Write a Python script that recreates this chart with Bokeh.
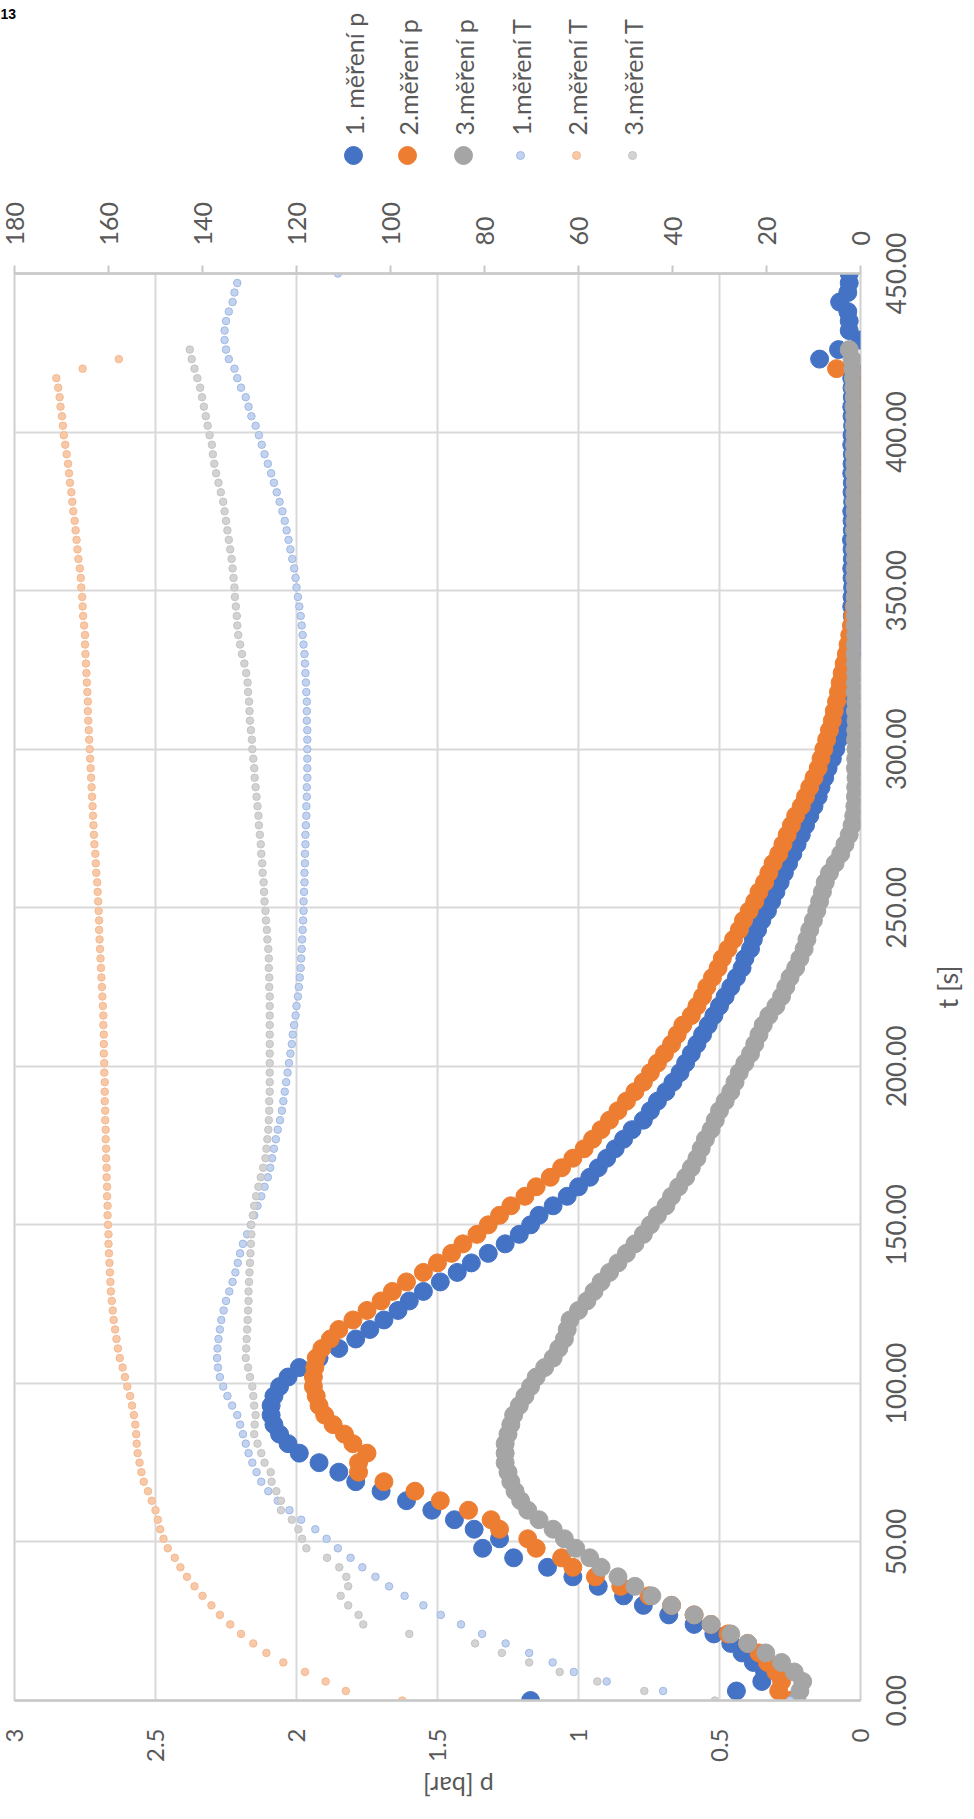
import math
from bokeh.plotting import figure
from bokeh.models import (Range1d, LinearAxis, FixedTicker, NumeralTickFormatter,
                          ColumnDataSource)
from bokeh.layouts import column, row
from bokeh.embed import file_html
from bokeh.resources import INLINE
from bokeh.core.properties import value

# ---------------- data (sampling every 3 s) ----------------
STEP = 3  # s, sampling interval of the measurements

p1 = [1.17, 0.44, 0.35, 0.34, 0.38, 0.42, 0.46, 0.52, 0.59, 0.68,
      0.77, 0.84, 0.93, 1.02, 1.11, 1.23, 1.34, 1.28, 1.37, 1.44,
      1.52, 1.61, 1.70, 1.79, 1.85, 1.92, 1.99, 2.03, 2.06, 2.08,
      2.09, 2.09, 2.08, 2.06, 2.03, 1.99, 1.92, 1.85, 1.79, 1.74,
      1.69, 1.64, 1.60, 1.55, 1.49, 1.43, 1.38, 1.32, 1.26, 1.21,
      1.17, 1.14, 1.09, 1.04, 1.00, 0.96, 0.93, 0.90, 0.87, 0.84,
      0.81, 0.77, 0.745, 0.72, 0.69, 0.665, 0.64, 0.62, 0.60, 0.58,
      0.56, 0.54, 0.52, 0.50, 0.48, 0.46, 0.44, 0.42, 0.41, 0.39,
      0.38, 0.365, 0.35, 0.33, 0.315, 0.30, 0.285, 0.27, 0.255, 0.24,
      0.225, 0.21, 0.195, 0.18, 0.165, 0.15, 0.14, 0.127, 0.115, 0.10,
      0.088, 0.078, 0.068, 0.06, 0.054, 0.048, 0.044, 0.04, 0.037, 0.034,
      0.031, 0.029, 0.028, 0.03, 0.029, 0.031, 0.03, 0.028, 0.03, 0.031,
      0.029, 0.03, 0.032, 0.029, 0.03, 0.031, 0.028, 0.03, 0.029, 0.031,
      0.03, 0.029, 0.031, 0.03, 0.028, 0.03, 0.031, 0.029, 0.03, 0.031,
      0.03, 0.145, 0.078, 0.0, 0.04, 0.04, 0.045, 0.074, 0.045, 0.04,
      0.04]

p2 = [0.25, 0.29, 0.28, 0.30, 0.33, 0.36, 0.40, 0.47, 0.53, 0.59,
      0.67, 0.75, 0.85, 0.94, 1.02, 1.06, 1.15, 1.18, 1.28, 1.31,
      1.39, 1.49, 1.58, 1.69, 1.78, 1.78, 1.75, 1.80, 1.83, 1.87,
      1.90, 1.92, 1.93, 1.94, 1.94, 1.935, 1.93, 1.91, 1.88, 1.85,
      1.80, 1.75, 1.70, 1.66, 1.61, 1.55, 1.50, 1.45, 1.41, 1.36,
      1.32, 1.28, 1.24, 1.19, 1.15, 1.10, 1.06, 1.02, 0.98, 0.95,
      0.92, 0.89, 0.86, 0.83, 0.80, 0.77, 0.745, 0.72, 0.695, 0.67,
      0.65, 0.63, 0.60, 0.58, 0.56, 0.545, 0.525, 0.505, 0.49, 0.47,
      0.45, 0.43, 0.415, 0.395, 0.375, 0.36, 0.34, 0.325, 0.31, 0.29,
      0.275, 0.26, 0.245, 0.23, 0.21, 0.195, 0.18, 0.165, 0.15, 0.14,
      0.13, 0.12, 0.11, 0.10, 0.093, 0.085, 0.078, 0.072, 0.065, 0.058,
      0.05, 0.044, 0.038, 0.032, 0.027, 0.022, 0.018, 0.014, 0.01, 0.008,
      0.006, 0.005, 0.007, 0.004, 0.006, 0.005, 0.003, 0.006, 0.005, 0.004,
      0.006, 0.005, 0.004, 0.006, 0.005, 0.003, 0.005, 0.006, 0.004, 0.005,
      0.085]

p3 = [0.225, 0.215, 0.205, 0.235, 0.28, 0.336, 0.40, 0.46, 0.53, 0.59,
      0.67, 0.74, 0.80, 0.86, 0.92, 0.96, 1.01, 1.05, 1.09, 1.14,
      1.18, 1.205, 1.225, 1.24, 1.25, 1.26, 1.26, 1.26, 1.25, 1.24,
      1.23, 1.21, 1.19, 1.17, 1.15, 1.12, 1.09, 1.07, 1.05, 1.04,
      1.03, 1.00, 0.97, 0.945, 0.92, 0.89, 0.86, 0.83, 0.80, 0.77,
      0.745, 0.72, 0.69, 0.67, 0.645, 0.62, 0.60, 0.58, 0.565, 0.55,
      0.53, 0.515, 0.50, 0.48, 0.46, 0.445, 0.43, 0.41, 0.39, 0.375,
      0.36, 0.345, 0.325, 0.30, 0.28, 0.265, 0.25, 0.23, 0.215, 0.20,
      0.19, 0.18, 0.167, 0.155, 0.145, 0.135, 0.125, 0.11, 0.09, 0.07,
      0.055, 0.04, 0.03, 0.024, 0.02, 0.018, 0.017, 0.016, 0.018, 0.017,
      0.016, 0.018, 0.017, 0.016, 0.018, 0.017, 0.019, 0.018, 0.017, 0.018,
      0.019, 0.018, 0.017, 0.019, 0.018, 0.02, 0.019, 0.018, 0.02, 0.019,
      0.018, 0.02, 0.019, 0.021, 0.02, 0.019, 0.021, 0.02, 0.019, 0.021,
      0.02, 0.022, 0.021, 0.02, 0.022, 0.021, 0.023, 0.022, 0.024, 0.025,
      0.027, 0.03, 0.04]

T1 = [15, 42, 54, 61, 65.5, 70.5, 75.5, 80.5, 85, 89.3,
      93, 97, 100.3, 103.2, 106, 108.5, 111.2, 113.6, 116, 119,
      121.5, 124, 126, 127.5, 128.5, 129.4, 130.2, 130.8, 131.4, 132,
      132.6, 133.7, 134.7, 135.6, 136.3, 136.7, 136.9, 136.8, 136.6, 136.3,
      136, 135.5, 135, 134.3, 133.6, 133, 132.5, 132, 131.4, 130.5,
      129.7, 129, 128.3, 127.5, 126.8, 126.1, 125.6, 125.2, 124.8, 124.4,
      124, 123.5, 123.1, 122.8, 122.5, 122.2, 121.9, 121.6, 121.3, 121,
      120.8, 120.5, 120.2, 120, 119.7, 119.5, 119.3, 119.1, 119, 118.9,
      118.8, 118.7, 118.6, 118.5, 118.5, 118.4, 118.3, 118.3, 118.2, 118.2,
      118.1, 118.1, 118, 117.9, 117.9, 117.8, 117.8, 117.7, 117.7, 117.7,
      117.7, 117.7, 117.7, 117.8, 117.8, 117.8, 117.9, 118, 118.1, 118.2,
      118.3, 118.5, 118.7, 118.9, 119.1, 119.4, 119.7, 120, 120.2, 120.5,
      120.9, 121.3, 121.7, 122.1, 122.5, 123, 123.6, 124.2, 124.8, 125.4,
      126.1, 126.8, 127.4, 128, 128.7, 129.6, 130.2, 130.8, 131.8, 132.6,
      133.2, 134.4, 135, 135.3, 135.3, 135, 134.4, 133.6, 133.2, 132.6,
      111.2]

T2 = [97.5, 109.5, 113.8, 118.2, 122.8, 126.4, 129.2, 131.8, 134.1, 136.3,
      138.1, 140, 141.7, 143.3, 144.7, 145.9, 147.4, 148.3, 149, 149.5,
      150, 150.8, 151.6, 152.5, 153, 153.4, 153.8, 154, 154.1, 154.3,
      154.6, 155, 155.4, 156, 156.5, 157, 157.6, 158, 158.3, 158.6,
      158.9, 159.1, 159.3, 159.5, 159.6, 159.7, 159.8, 159.9, 160, 160,
      160.1, 160.2, 160.2, 160.3, 160.3, 160.4, 160.4, 160.5, 160.5, 160.6,
      160.6, 160.7, 160.7, 160.8, 160.8, 160.8, 160.9, 160.9, 161, 161,
      161, 161.1, 161.1, 161.2, 161.3, 161.4, 161.5, 161.6, 161.7, 161.8,
      161.9, 162, 162, 162.1, 162.2, 162.3, 162.4, 162.6, 162.7, 162.8,
      163, 163.1, 163.2, 163.3, 163.4, 163.5, 163.6, 163.7, 163.8, 163.9,
      164, 164.1, 164.2, 164.3, 164.4, 164.4, 164.5, 164.6, 164.7, 164.8,
      164.9, 165, 165, 165.2, 165.4, 165.5, 165.6, 165.8, 165.9, 166.1,
      166.4, 166.6, 166.8, 167, 167.2, 167.5, 167.7, 167.9, 168.2, 168.4,
      168.6, 168.9, 169.2, 169.5, 169.7, 169.9, 170.2, 170.4, 170.7, 171.1,
      165.5, 157.8]

T3 = [31, 46, 56, 64, 70.5, 76.3, 82, 96, 105.8, 106.8,
      109, 110.6, 109, 109.4, 110.9, 113.5, 117.9, 118.8, 119.6, 121,
      123.3, 123.3, 124.3, 125.3, 125.5, 126.8, 127.5, 128.3, 129, 128.9,
      128.7, 129, 129.2, 129.4, 129.9, 130.3, 130.8, 130.7, 130.6, 130.5,
      130.4, 130.3, 130.2, 130.2, 130.1, 130, 129.9, 129.8, 129.7, 129.6,
      129.6, 129.3, 129, 128.6, 128.1, 127.6, 127.1, 126.6, 126.4, 126.2,
      126, 125.9, 125.8, 125.8, 125.7, 125.7, 125.7, 125.7, 125.7, 125.7,
      125.7, 125.7, 125.7, 125.7, 125.7, 125.8, 125.8, 125.9, 125.9, 126,
      126.2, 126.3, 126.5, 126.6, 126.8, 126.9, 127, 127.2, 127.3, 127.5,
      127.6, 127.8, 128, 128.1, 128.3, 128.5, 128.7, 128.9, 129, 129.2,
      129.4, 129.5, 129.7, 129.9, 130, 130.1, 130.3, 130.4, 130.7, 131.1,
      131.6, 132, 132.4, 132.6, 132.7, 132.9, 133.1, 133.2, 133.4, 133.6,
      133.8, 134.1, 134.4, 134.7, 135, 135.3, 135.6, 136.1, 136.6, 137.1,
      137.5, 137.8, 138, 138.5, 138.9, 139.3, 139.7, 140.1, 140.5, 141.1,
      141.7, 142.3, 142.7]

series_names = ["1. měření p", "2.měření p", "3.měření p",
                "1.měření T", "2.měření T", "3.měření T"]
t_ticks = [0, 50, 100, 150, 200, 250, 300, 350, 400, 450]
t_tick_labels = ["0.00", "50.00", "100.00", "150.00", "200.00", "250.00",
                 "300.00", "350.00", "400.00", "450.00"]
p_ticks = [0, 0.5, 1, 1.5, 2, 2.5, 3]
T_ticks = [0, 20, 40, 60, 80, 100, 120, 140, 160, 180]
t_title = "t [s]"
p_title = "p [bar]"
corner_text = "13"

# ---------------- styling / layout ----------------
FONT = "Lato"
TXT = "#595959"
GRID = "#d9d9d9"
AXL = "#c8c8c8"
p_fill = ["#4472c4", "#ed7d31", "#a5a5a5"]
T_fill = ["#c3d3ef", "#f8c9a8", "#d3d3d3"]
T_line = ["#9fb9e4", "#f5b88e", "#c4c4c4"]

W = 964                 # full width of the page content
FW, FH = 846, 1427      # plot frame
LEFT, RIGHT_B = 14, 14  # main figure side borders
TOP, BOTTOM = 90, 68    # main figure top/bottom borders
MAIN_W = LEFT + FW + RIGHT_B
MAIN_H = TOP + FH + BOTTOM
LEG_H = 183
BOT_H = 1803 - LEG_H - MAIN_H
SIDE_W = W - MAIN_W
K = FH / 450.0          # px per second on the t scale

# ---------------- main figure ----------------
fig = figure(width=MAIN_W, height=MAIN_H, frame_width=FW, frame_height=FH,
             x_range=Range1d(3, 0), y_range=Range1d(0, 450),
             output_backend="svg", toolbar_location=None,
             x_axis_location="below", y_axis_location=None,
             min_border_left=LEFT, min_border_right=RIGHT_B,
             min_border_top=TOP, min_border_bottom=BOTTOM)
fig.outline_line_color = "#d0d0d0"
fig.outline_line_width = 2
fig.background_fill_color = "white"
fig.border_fill_color = "white"
fig.extra_x_ranges = {"T": Range1d(180, 0)}

fig.xgrid.ticker = FixedTicker(ticks=p_ticks)
fig.ygrid.ticker = FixedTicker(ticks=t_ticks)
for g in (fig.xgrid, fig.ygrid):
    g.grid_line_color = GRID
    g.grid_line_width = 2

xa = fig.xaxis[0]
xa.ticker = FixedTicker(ticks=p_ticks)
xa.formatter = NumeralTickFormatter(format="0.[0]")
ta = LinearAxis(x_range_name="T", ticker=FixedTicker(ticks=T_ticks))
fig.add_layout(ta, "above")

for ax in (xa, ta):
    ax.axis_line_color = AXL
    ax.axis_line_width = 2.5
    ax.minor_tick_line_color = None
    ax.minor_tick_out = 0
    ax.minor_tick_in = 0
    ax.major_label_text_font = FONT
    ax.major_label_text_color = TXT
    ax.major_label_orientation = math.pi / 2

xa.major_tick_line_color = None
xa.major_tick_out = 0
xa.major_tick_in = 0
ta.major_tick_line_color = AXL
ta.major_tick_line_width = 2
ta.major_tick_out = 8
ta.major_tick_in = 0

xa.major_label_text_font_size = "24px"
ta.major_label_text_font_size = "25px"
xa.major_label_standoff = 28
ta.major_label_standoff = 20

for vals, col in zip([p1, p2, p3], p_fill):
    src = ColumnDataSource(dict(t=[STEP * i for i in range(len(vals))], v=vals))
    fig.scatter(x="v", y="t", source=src, size=18, fill_color=col, line_color=col,
                line_width=1)

for vals, fc, lc in zip([T1, T2, T3], T_fill, T_line):
    src = ColumnDataSource(dict(t=[STEP * i for i in range(len(vals))], v=vals))
    fig.scatter(x="v", y="t", source=src, x_range_name="T", size=7.5,
                fill_color=fc, line_color=lc, line_width=1)


def blank(width, height, xr, yr):
    f = figure(width=width, height=height, x_range=xr, y_range=yr,
               output_backend="svg", toolbar_location=None,
               min_border_left=0, min_border_right=0, min_border_top=0, min_border_bottom=0)
    f.axis.visible = False
    f.grid.visible = False
    f.outline_line_color = None
    f.background_fill_color = "white"
    f.border_fill_color = "white"
    return f


# ---------------- right strip: t axis (line, centred tick labels, title) ----------------
side = blank(SIDE_W, MAIN_H, Range1d(0, SIDE_W),
             Range1d(-BOTTOM / K, 450 + TOP / K))
side.text(x=[21] * len(t_ticks), y=t_ticks, text=t_tick_labels, angle=math.pi / 2,
          text_font=value(FONT), text_font_size="26px", text_color=TXT,
          text_align="center", text_baseline="middle")
side.text(x=[73], y=[225], text=[t_title], angle=math.pi / 2,
          text_font=value(FONT), text_font_size="27px", text_color=TXT,
          text_align="center", text_baseline="middle")

# ---------------- bottom strip: p axis title ----------------
bot = blank(W, BOT_H, Range1d(0, W), Range1d(0, BOT_H))
bot.text(x=[458], y=[BOT_H - 18], text=[p_title], angle=math.pi,
         text_font=value(FONT), text_font_size="25px", text_color=TXT,
         text_align="center", text_baseline="middle")

# ---------------- legend strip (rotated like the chart) ----------------
leg = blank(W, LEG_H, Range1d(0, W), Range1d(0, LEG_H))
leg_x = [353, 407, 463, 520, 576, 632]
mk_size = [18, 18, 18, 8, 8, 8]
leg.scatter(x=leg_x, y=[LEG_H - 155] * 6, size=mk_size, fill_color=p_fill + T_fill,
            line_color=p_fill + T_line)
leg.text(x=leg_x, y=[LEG_H - 135] * 6, text=series_names, angle=math.pi / 2,
         text_font=value(FONT), text_font_size="25px", text_color=TXT,
         text_align="left", text_baseline="middle")
leg.text(x=[0], y=[LEG_H - 13], text=[corner_text], text_font=value("Liberation Sans"),
         text_font_size="14px", text_font_style="bold", text_color="black",
         text_align="left", text_baseline="alphabetic")

layout = column(leg, row(fig, column(side, spacing=0), spacing=0), bot, spacing=0)
open("out.html", "w").write(file_html(layout, INLINE))
